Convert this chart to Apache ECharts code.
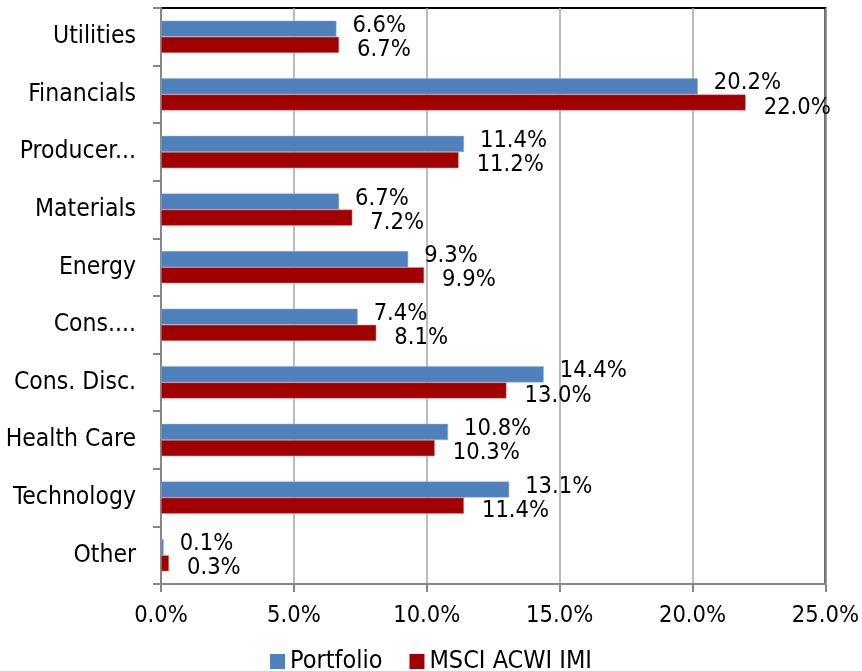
<!DOCTYPE html>
<html>
<head>
<meta charset="utf-8">
<script src="https://cdn.jsdelivr.net/npm/echarts@6/dist/echarts.min.js"></script>
<style>
html, body { margin: 0; padding: 0; background: #fff; }
#main { width: 862px; height: 671px; }
</style>
</head>
<body>
<div id="main"></div>
<script>
// sectors, listed top to bottom
var sectors = ['Utilities', 'Financials', 'Producer...', 'Materials', 'Energy',
    'Cons....', 'Cons. Disc.', 'Health Care', 'Technology', 'Other'];
var portfolio = [6.6, 20.2, 11.4, 6.7, 9.3, 7.4, 14.4, 10.8, 13.1, 0.1];
var msciAcwiImi = [6.7, 22.0, 11.2, 7.2, 9.9, 8.1, 13.0, 10.3, 11.4, 0.3];
var xTicks = [0, 5, 10, 15, 20, 25];

var font = 'DejaVu Sans Condensed, DejaVu Sans, sans-serif';
var pct = function (v) { return v.toFixed(1) + '%'; };

var option = {
    animation: false,
    textStyle: { fontFamily: font },
    grid: {
        left: 161, right: 35, top: 8, bottom: 87,
        show: true,
        borderColor: '#000',
        borderWidth: 2
    },
    legend: {
        data: ['Portfolio', 'MSCI ACWI IMI'],
        left: 'center',
        top: 644,
        itemWidth: 15,
        itemHeight: 15,
        itemGap: 27,
        icon: 'rect',
        itemStyle: { borderWidth: 0 },
        textStyle: { fontSize: 25, color: '#000', fontFamily: font }
    },
    xAxis: {
        type: 'value',
        min: xTicks[0],
        max: xTicks[xTicks.length - 1],
        interval: 5,
        axisLine: { show: true, lineStyle: { color: '#868686', width: 2 } },
        axisTick: { show: true, length: 8, lineStyle: { color: '#868686', width: 2 } },
        splitLine: { show: true, lineStyle: { color: '#A6A6A6', width: 1.5 } },
        axisLabel: {
            margin: 20,
            fontSize: 23.5,
            color: '#000',
            fontFamily: font,
            formatter: function (v) { return pct(v); }
        }
    },
    yAxis: {
        type: 'category',
        data: sectors,
        inverse: true,
        axisLine: { show: true, lineStyle: { color: '#868686', width: 2 } },
        axisTick: { show: true, length: 8, lineStyle: { color: '#868686', width: 2 } },
        axisLabel: { margin: 25, fontSize: 24.5, color: '#000', fontFamily: font }
    },
    series: [
        {
            name: 'Portfolio',
            type: 'bar',
            data: portfolio,
            barCategoryGap: '44%',
            barGap: '0%',
            itemStyle: { color: '#4F81BD', borderColor: '#95B3D7', borderWidth: 0.5 },
            label: {
                show: true,
                position: 'right',
                distance: 16,
                offset: [0, -3],
                fontSize: 23.5,
                color: '#000',
                fontFamily: font,
                formatter: function (p) { return pct(p.value); }
            }
        },
        {
            name: 'MSCI ACWI IMI',
            type: 'bar',
            data: msciAcwiImi,
            barCategoryGap: '44%',
            barGap: '0%',
            itemStyle: { color: '#A00000', borderColor: '#D99694', borderWidth: 0.5 },
            label: {
                show: true,
                position: 'right',
                distance: 18,
                offset: [0, 5],
                fontSize: 23.5,
                color: '#000',
                fontFamily: font,
                formatter: function (p) { return pct(p.value); }
            }
        }
    ]
};

var myChart = echarts.init(document.getElementById('main'));
myChart.setOption(option);
</script>
</body>
</html>
